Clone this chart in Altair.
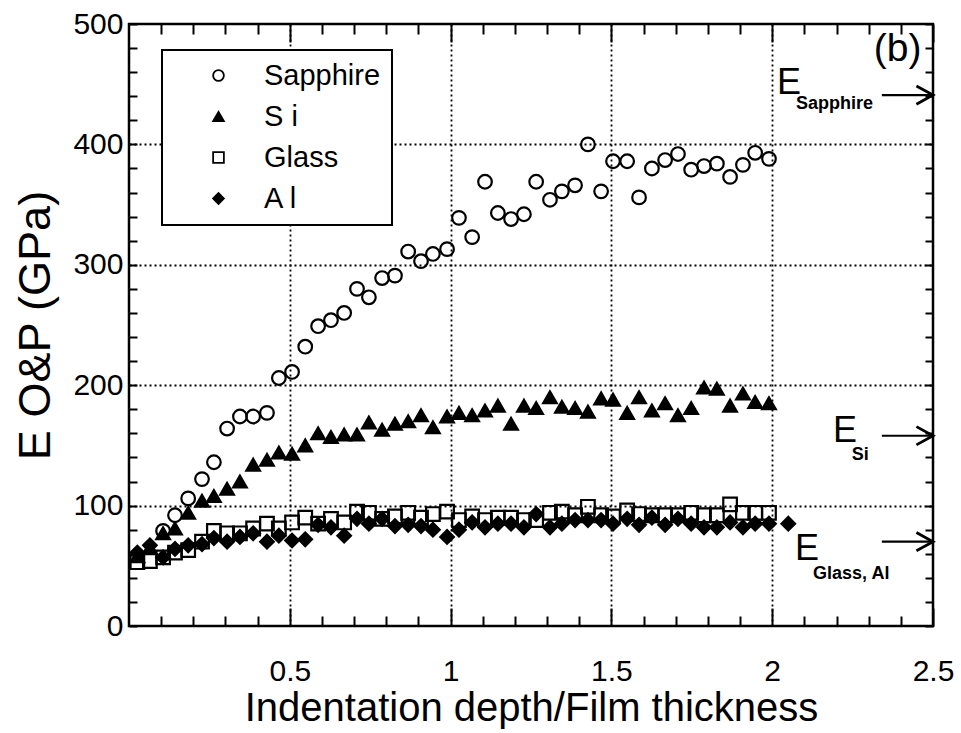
import altair as alt
import pandas as pd

FONT = "Liberation Sans"

# ---- data ----
depth = [0.026, 0.065, 0.106, 0.143, 0.184, 0.227, 0.264, 0.305, 0.345, 0.386,
         0.429, 0.466, 0.507, 0.548, 0.588, 0.628, 0.669, 0.709, 0.746, 0.787,
         0.827, 0.868, 0.908, 0.945, 0.989, 1.026, 1.067, 1.107, 1.147, 1.188,
         1.228, 1.266, 1.309, 1.346, 1.387, 1.427, 1.468, 1.505, 1.549, 1.586,
         1.626, 1.667, 1.707, 1.748, 1.788, 1.828, 1.869, 1.909, 1.947, 1.990]
al_extra_depth = [2.05]

sapphire = [79, 92, 106, 122, 136, 164, 174, 174, 177, 206,
            211, 232, 249, 254, 260, 280, 273, 289, 291, 311,
            303, 309, 313, 339, 323, 369, 343, 338, 342, 369,
            354, 361, 366, 400, 361, 386, 386, 356, 380, 387,
            392, 379, 382, 384, 373, 383, 393, 388]
si = [58, 65, 77, 81, 94, 104, 108, 114, 120, 134,
      138, 144, 143, 150, 160, 157, 159, 159, 169, 163,
      168, 170, 175, 165, 174, 177, 175, 179, 183, 168,
      183, 181, 190, 182, 181, 178, 189, 188, 177, 190,
      179, 185, 175, 181, 198, 197, 183, 193, 186, 185]
glass = [53, 54, 57, 61, 63, 70, 79, 77, 77, 81,
         85, 81, 86, 90, 85, 89, 86, 95, 94, 89,
         91, 94, 90, 93, 95, 88, 91, 88, 90, 90,
         88, 88, 94, 95, 92, 99, 92, 91, 96, 93,
         92, 92, 92, 94, 92, 92, 101, 94, 94, 94]
al = [61, 67, 57, 64, 67, 68, 73, 70, 74, 77,
      70, 75, 71, 72, 84, 82, 75, 89, 85, 89,
      83, 84, 83, 80, 74, 80, 86, 82, 85, 85,
      82, 93, 82, 85, 88, 88, 88, 85, 89, 84,
      90, 84, 89, 85, 82, 82, 86, 82, 85, 85, 85]

series_names = ["Sapphire", "S i", "Glass", "A l"]
series_shapes = ["circle", "triangle-up", "square", "diamond"]
series_fills = ["transparent", "black", "transparent", "black"]
series_strokes = ["black", "black", "black", "black"]

# reference moduli arrows
ref_main = ["E", "E", "E"]
ref_sub = ["Sapphire", "Si", "Glass,  Al"]
ref_level = [441, 158, 70]
ref_e_x = [2.015, 2.189, 2.071]
ref_e_y = [441.5, 152.7, 54.8]
ref_sub_x = [2.074, 2.247, 2.127]
ref_sub_y = [429.5, 137.8, 39.0]
arrow_start = [2.341, 2.341, 2.341]
arrow_end = [2.5, 2.5, 2.5]

panel_label = ["(b)"]
panel_x = [2.39]
panel_y = [469]

x_major_vals = [0.5, 1, 1.5, 2, 2.5]
x_minor_vals = [round(i / 10, 1) for i in range(1, 25) if i % 5]
y_tick_vals = list(range(0, 501, 20))
grid_x_vals = [0.5, 1, 1.5, 2]
grid_y_vals = [100, 200, 300, 400]

# ---- tables ----
rows = []
for name, xs, ys in [("Sapphire", depth[2:], sapphire),
                     ("S i", depth, si),
                     ("Glass", depth, glass),
                     ("A l", depth + al_extra_depth, al)]:
    for xv, yv in zip(xs, ys):
        rows.append({"series": name, "depth": xv, "E": yv})
df = pd.DataFrame(rows)

ref_df = pd.DataFrame({
    "main": ref_main, "sub": ref_sub, "level": ref_level,
    "ex": ref_e_x, "ey": ref_e_y, "sx": ref_sub_x, "sy": ref_sub_y,
    "a0": arrow_start, "a1": arrow_end,
})
panel_df = pd.DataFrame({"t": panel_label, "x": panel_x, "y": panel_y})

x_scale = alt.Scale(domain=[0, 2.5], nice=False, zero=False)
y_scale = alt.Scale(domain=[0, 500], nice=False, zero=False)

common_axis = dict(domain=False, tickColor="black", tickWidth=2, labelFont=FONT,
                   labelColor="black", titleFont=FONT, titleColor="black",
                   titleFontWeight="normal")


def hidden_layer(x_axis, y_axis):
    xa = alt.X("depth:Q", scale=x_scale, title=None,
               axis=x_axis if x_axis is not None else None)
    ya = alt.Y("E:Q", scale=y_scale, title=None,
               axis=y_axis if y_axis is not None else None)
    return alt.Chart(df).mark_point(opacity=0).encode(x=xa, y=ya)


grid_layer = hidden_layer(
    alt.Axis(orient="bottom", values=grid_x_vals, grid=True, gridDash=[2, 3],
             gridColor="black", gridWidth=1.8, ticks=False, labels=False, domain=False),
    alt.Axis(orient="left", values=grid_y_vals, grid=True, gridDash=[2, 3],
             gridColor="black", gridWidth=1.8, ticks=False, labels=False, domain=False),
)

minor_layer = hidden_layer(
    alt.Axis(orient="bottom", values=x_minor_vals, tickSize=10, offset=-10,
             labels=False, grid=False, **common_axis),
    alt.Axis(orient="right", values=y_tick_vals, tickSize=8, offset=-8,
             labels=False, grid=False, **common_axis),
)

top_major_layer = hidden_layer(
    alt.Axis(orient="top", values=x_major_vals, tickSize=18, offset=-18,
             labels=False, grid=False, **common_axis),
    None,
)

top_minor_layer = hidden_layer(
    alt.Axis(orient="top", values=x_minor_vals, tickSize=10, offset=-10,
             labels=False, grid=False, **common_axis),
    None,
)

legend_def = alt.Legend(orient="none", legendX=33, legendY=26)

points = alt.Chart(df).mark_point(
    strokeWidth=2.2, opacity=1, size=185
).encode(
    x=alt.X("depth:Q", scale=x_scale, title="Indentation depth/Film thickness",
            axis=alt.Axis(orient="bottom", values=x_major_vals, tickSize=18, offset=-18,
                          grid=False, labelExpr="'' + datum.value", labelFontSize=30,
                          labelPadding=30, labelFlush=False, labelOverlap=False,
                          titleFontSize=40, titlePadding=2, **common_axis)),
    y=alt.Y("E:Q", scale=y_scale, title="E O&P (GPa)",
            axis=alt.Axis(orient="left", values=y_tick_vals, tickSize=8, offset=-8,
                          grid=False,
                          labelExpr="datum.value % 100 == 0 ? datum.label : ''",
                          labelFontSize=30, labelPadding=6, labelOverlap=False,
                          titleFontSize=45, titlePadding=14, **common_axis)),
    shape=alt.Shape("series:N", title=None,
                    scale=alt.Scale(domain=series_names, range=series_shapes),
                    legend=legend_def),
    fill=alt.Fill("series:N", title=None,
                  scale=alt.Scale(domain=series_names, range=series_fills),
                  legend=legend_def),
    stroke=alt.Stroke("series:N", title=None,
                      scale=alt.Scale(domain=series_names, range=series_strokes),
                      legend=legend_def),
)

arrows = alt.Chart(ref_df).mark_rule(color="black", strokeWidth=2.2).encode(
    x=alt.X("a0:Q", scale=x_scale, axis=None),
    x2="a1:Q",
    y=alt.Y("level:Q", scale=y_scale, axis=None),
)
heads = alt.Chart(ref_df).mark_point(
    shape="M-1,-0.55L0,0L-1,0.55", size=1100, filled=False, stroke="black",
    strokeWidth=2.8, opacity=1,
).encode(
    x=alt.X("a1:Q", scale=x_scale, axis=None),
    y=alt.Y("level:Q", scale=y_scale, axis=None),
)
e_text = alt.Chart(ref_df).mark_text(
    font=FONT, fontSize=36, align="left", baseline="alphabetic", color="black"
).encode(
    x=alt.X("ex:Q", scale=x_scale, axis=None),
    y=alt.Y("ey:Q", scale=y_scale, axis=None),
    text="main:N",
)
sub_text = alt.Chart(ref_df).mark_text(
    font=FONT, fontSize=18, fontWeight="bold", align="left", baseline="alphabetic",
    color="black"
).encode(
    x=alt.X("sx:Q", scale=x_scale, axis=None),
    y=alt.Y("sy:Q", scale=y_scale, axis=None),
    text="sub:N",
)
panel = alt.Chart(panel_df).mark_text(
    font=FONT, fontSize=39, align="center", baseline="alphabetic", color="black"
).encode(
    x=alt.X("x:Q", scale=x_scale, axis=None),
    y=alt.Y("y:Q", scale=y_scale, axis=None),
    text="t:N",
)

chart = alt.layer(
    grid_layer, points, minor_layer, top_major_layer, top_minor_layer,
    arrows, heads, e_text, sub_text, panel,
).resolve_axis(
    x="independent", y="independent"
).properties(
    width=804, height=602,
    autosize=alt.AutoSizeParams(type="none"),
    padding={"left": 129, "top": 24, "right": 28, "bottom": 107},
    background="white",
).configure_view(
    stroke="black", strokeWidth=2.5
).configure_legend(
    strokeColor="black", strokeWidth=2, fillColor="white", padding=11,
    labelFont=FONT, labelFontSize=29, labelColor="black",
    symbolSize=115, symbolStrokeWidth=1.8,
    symbolOffset=31, labelOffset=31, rowPadding=11,
)

chart.save("out.html", embed_options={"renderer": "svg", "actions": False})
